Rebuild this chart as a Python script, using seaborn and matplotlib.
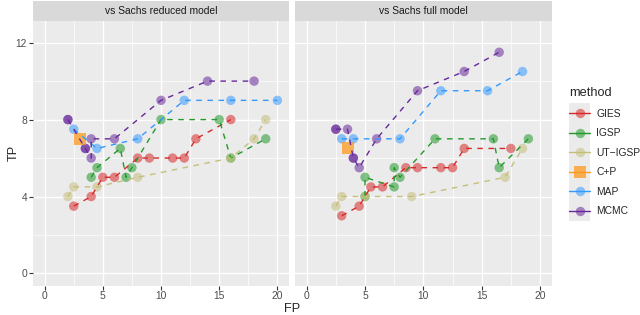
import numpy as np
import pandas as pd
import seaborn as sns
import matplotlib.pyplot as plt
from matplotlib.lines import Line2D
from matplotlib.patches import Rectangle
from matplotlib.colors import to_rgba

panels = ["vs Sachs reduced model", "vs Sachs full model"]
methods = ["GIES", "IGSP", "UT\u2212IGSP", "C+P", "MAP", "MCMC"]
colors = ["#D62A2A", "#22992A", "#C4BE7A", "#FF9A1E", "#3399FF", "#68289A"]

# vs Sachs reduced model
red_gies_fp = [2.5, 4, 5, 6, 8, 9, 11, 12, 13, 16]
red_gies_tp = [3.5, 4, 5, 5, 6, 6, 6, 6, 7, 8]
red_igsp_fp = [4, 4.5, 6.5, 7, 7.5, 10, 15, 16, 19]
red_igsp_tp = [5, 5.5, 6.5, 5, 5.5, 8, 8, 6, 7]
red_utigsp_fp = [2, 2.5, 4.5, 8, 16, 18, 19]
red_utigsp_tp = [4, 4.5, 4.5, 5, 6, 7, 8]
red_cp_fp = [3]
red_cp_tp = [7]
red_map_fp = [2.5, 4.5, 8, 12, 16, 20]
red_map_tp = [7.5, 6.5, 7, 9, 9, 9]
red_mcmc_fp = [2, 2, 3.5, 3.5, 4, 4, 6, 10, 14, 18]
red_mcmc_tp = [8, 8, 6.5, 6.5, 6, 7, 7, 9, 10, 10]

# vs Sachs full model
full_gies_fp = [3, 4.5, 5.5, 6.5, 8.5, 9.5, 11.5, 12.5, 13.5, 17.5]
full_gies_tp = [3, 3.5, 4.5, 4.5, 5.5, 5.5, 5.5, 5.5, 6.5, 6.5]
full_igsp_fp = [5, 5, 7.5, 7.5, 8, 11, 16, 16.5, 19]
full_igsp_tp = [4, 5, 4.5, 5.5, 5, 7, 7, 5.5, 7]
full_utigsp_fp = [2.5, 3, 5, 9, 17, 18.5]
full_utigsp_tp = [3.5, 4, 4, 4, 5, 6.5]
full_cp_fp = [3.5]
full_cp_tp = [6.5]
full_map_fp = [3, 4, 8, 11.5, 15.5, 18.5]
full_map_tp = [7, 7, 7, 9.5, 9.5, 10.5]
full_mcmc_fp = [2.5, 2.5, 3.5, 4, 4, 4.5, 6, 9.5, 13.5, 16.5]
full_mcmc_tp = [7.5, 7.5, 7.5, 6, 6, 5.5, 7, 9.5, 10.5, 11.5]

series = [
    (panels[0], "GIES", red_gies_fp, red_gies_tp),
    (panels[0], "IGSP", red_igsp_fp, red_igsp_tp),
    (panels[0], "UT\u2212IGSP", red_utigsp_fp, red_utigsp_tp),
    (panels[0], "C+P", red_cp_fp, red_cp_tp),
    (panels[0], "MAP", red_map_fp, red_map_tp),
    (panels[0], "MCMC", red_mcmc_fp, red_mcmc_tp),
    (panels[1], "GIES", full_gies_fp, full_gies_tp),
    (panels[1], "IGSP", full_igsp_fp, full_igsp_tp),
    (panels[1], "UT\u2212IGSP", full_utigsp_fp, full_utigsp_tp),
    (panels[1], "C+P", full_cp_fp, full_cp_tp),
    (panels[1], "MAP", full_map_fp, full_map_tp),
    (panels[1], "MCMC", full_mcmc_fp, full_mcmc_tp),
]
rows = []
for panel, m, fp, tp in series:
    for a, b in zip(fp, tp):
        rows.append({"panel": panel, "method": m, "FP": a, "TP": b})
df = pd.DataFrame(rows)

sns.set_theme(style="darkgrid")
plt.rcParams['font.family'] = ['Liberation Sans', 'DejaVu Sans']

fig = plt.figure(figsize=(6.4, 3.15), dpi=100)
H = 315.0
W = 640.0
bot = 1 - 285.5 / H
hgt = 264.5 / H
ax1 = fig.add_axes([33 / W, bot, 256 / W, hgt])
ax2 = fig.add_axes([295 / W, bot, 256.7 / W, hgt])

pal = dict(zip(methods, colors))
fs = 7.4

for ax, panel in zip([ax1, ax2], panels):
    d = df[df.panel == panel]
    pts = d[d.method != "C+P"]
    cp = d[d.method == "C+P"]
    ax.set_facecolor("#EBEBEB")
    sns.scatterplot(data=pts, x="FP", y="TP", hue="method", palette=pal,
                    s=46, alpha=0.55, linewidth=0, legend=False, ax=ax,
                    zorder=2)
    sns.scatterplot(data=cp, x="FP", y="TP", hue="method", palette=pal,
                    marker="s", s=72, alpha=0.75, linewidth=0, legend=False,
                    ax=ax, zorder=2)
    sns.lineplot(data=d, x="FP", y="TP", hue="method", hue_order=methods,
                 palette=colors, estimator=None, sort=False, legend=False,
                 ax=ax, linewidth=1.0, linestyle=(0, (4, 4)), zorder=3)
    ax.set_xlim(-1, 21)
    ax.set_ylim(-0.625, 13.125)
    ax.set_xticks([0, 5, 10, 15, 20])
    ax.set_xticks([2.5, 7.5, 12.5, 17.5], minor=True)
    ax.set_yticks([0, 4, 8, 12])
    ax.set_yticks([2, 6, 10], minor=True)
    ax.grid(which="major", color="white", linewidth=1.0)
    ax.grid(which="minor", color="white", linewidth=0.5)
    ax.set_axisbelow(True)
    for s in ax.spines.values():
        s.set_visible(False)
    ax.set_xlabel("")
    ax.set_ylabel("")
    ax.tick_params(which="major", direction="out", length=2.8, width=0.8,
                   color="#333333", labelcolor="#4D4D4D", labelsize=fs, pad=1.5)
    ax.tick_params(which="minor", length=0)
    ax.tick_params(axis="x", bottom=True)
    ax.tick_params(axis="y", left=True)
    # facet strip
    ax.add_patch(Rectangle((0, 1.0), 1, 20 / 264.5, transform=ax.transAxes,
                           facecolor="#D9D9D9", edgecolor="none", clip_on=False))
    ax.text(0.5, 1.0 + 10 / 264.5, panel, transform=ax.transAxes, ha="center",
            va="center", fontsize=fs, color="#1A1A1A")

ax2.tick_params(axis="y", left=False, labelleft=False)

fig.text(292 / W, 1 - 309 / H, "FP", ha="center", va="center", fontsize=9.2)
fig.text(14 / W, 1 - 153 / H, "TP", ha="center", va="center", fontsize=9.2,
         rotation=90)

# legend
fig.patches.append(Rectangle((569 / W, 1 - 221 / H), 21 / W, 118 / H,
                             transform=fig.transFigure, facecolor="#EBEBEB",
                             edgecolor="none"))
handles = []
for m, c in zip(methods, colors):
    sq = m == "C+P"
    handles.append(Line2D([], [], color=c, linewidth=1.0,
                          marker="s" if sq else "o",
                          markersize=8.5 if sq else 6.8,
                          markerfacecolor=to_rgba(c, 0.75 if sq else 0.55),
                          markeredgewidth=0))
leg = fig.legend(handles, methods, loc="upper left",
                 bbox_to_anchor=(569 / W, 1 - 87 / H), frameon=False,
                 title="method", fontsize=fs, title_fontsize=9.2,
                 handlelength=2.05, handletextpad=0.58, labelspacing=0.93,
                 borderaxespad=0, borderpad=0)
leg._legend_box.align = "left"

fig.savefig("out.png", dpi=100)
